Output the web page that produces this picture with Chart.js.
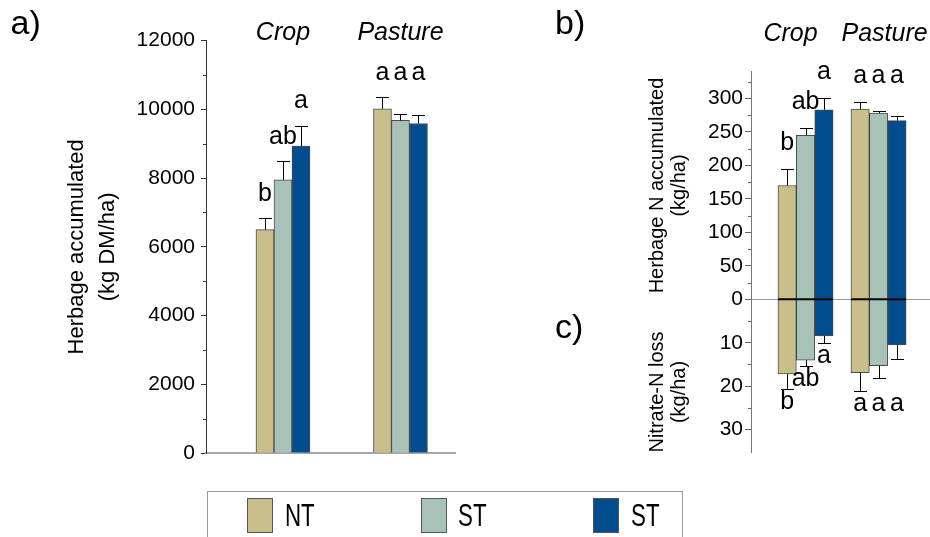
<!DOCTYPE html>
<html>
<head>
<meta charset="utf-8">
<script src="https://cdn.jsdelivr.net/npm/chart.js@4.4.1/dist/chart.umd.min.js"></script>
<style>
html,body{margin:0;padding:0;background:#fff;}
#wrap{position:relative;width:930px;height:537px;overflow:hidden;font-family:'Liberation Sans',Arial,sans-serif;color:#000;}
canvas{position:absolute;left:0;top:0;}
.plab{position:absolute;font-size:34px;line-height:34px;}
#legend{position:absolute;left:207px;top:491px;width:476px;height:70px;border:1.5px solid #9a9a9a;box-sizing:border-box;}
.sw{position:absolute;top:5.5px;width:26px;height:35px;box-sizing:border-box;border:1px solid #555;}
.lt{position:absolute;top:8px;font-family:'Liberation Sans Narrow','Liberation Sans',sans-serif;font-size:31px;line-height:31px;transform:scaleX(0.72);transform-origin:left center;white-space:nowrap;}
</style>
</head>
<body>
<div id="wrap">
  <canvas id="cA" width="930" height="537"></canvas>
  <canvas id="cC" width="930" height="537"></canvas>
  <canvas id="cB" width="930" height="537"></canvas>
  <div class="plab" style="left:10.5px;top:5px;">a)</div>
  <div class="plab" style="left:555px;top:5px;">b)</div>
  <div class="plab" style="left:555px;top:309px;">c)</div>
  <div id="legend"></div>
</div>
<script>
// ---------- data ----------
const groups = ['Crop', 'Pasture'];
const seriesNames = ['NT', 'ST', 'ST'];
const seriesColors = ['#c8bf8c', '#a7c3b8', '#024b8d'];

// a) Herbage accumulated (kg DM/ha), per series: [Crop, Pasture]
const herbageNT  = [6500, 10020];
const herbageST  = [7950, 9680];
const herbageST2 = [8930, 9590];
const herbageErrNT  = [350, 330];
const herbageErrST  = [550, 200];
const herbageErrST2 = [600, 240];
const herbageLetNT  = ['b', 'a'];
const herbageLetST  = ['ab', 'a'];
const herbageLetST2 = ['a', 'a'];

// b) Herbage N accumulated (kg/ha)
const nAccNT  = [170, 284];
const nAccST  = [245, 278];
const nAccST2 = [283, 267];
const nAccErrNT  = [24, 10];
const nAccErrST  = [11, 4];
const nAccErrST2 = [17, 7];
const nAccLetNT  = ['b', 'a'];
const nAccLetST  = ['ab', 'a'];
const nAccLetST2 = ['a', 'a'];

// c) Nitrate-N loss (kg/ha)
const nLossNT  = [17.2, 16.9];
const nLossST  = [14.0, 15.3];
const nLossST2 = [8.4, 10.5];
const nLossErrNT  = [3.5, 4.3];
const nLossErrST  = [1.3, 2.9];
const nLossErrST2 = [1.6, 3.2];
const nLossLetNT  = ['b', 'a'];
const nLossLetST  = ['ab', 'a'];
const nLossLetST2 = ['a', 'a'];

// tick labels
const herbageTicks = [0, 2000, 4000, 6000, 8000, 10000, 12000];
const nAccTicks = [0, 50, 100, 150, 200, 250, 300];
const nLossTicks = [10, 20, 30];

// ---------- helpers ----------
const FONT = "'Liberation Sans', Arial, sans-serif";
Chart.defaults.font.family = FONT;
Chart.defaults.color = '#000';

function makeDatasets(vals, errs, lets, thickness) {
  return vals.map((v, k) => ({
    label: seriesNames[k],
    data: v.map((y, i) => ({ x: i, y: y })),
    errors: errs[k],
    letters: lets[k],
    backgroundColor: seriesColors[k],
    borderColor: 'rgba(45,45,45,0.85)',
    borderWidth: 1,
    barThickness: thickness
  }));
}

const annot = {
  id: 'annot',
  afterDatasetsDraw(chart, args, opts) {
    const ctx = chart.ctx, ys = chart.scales.y;
    const dss = chart.data.datasets;
    const ends = [];
    ctx.save();
    ctx.strokeStyle = '#000';
    ctx.lineWidth = 1;
    dss.forEach((ds, k) => {
      const meta = chart.getDatasetMeta(k);
      ends[k] = meta.data.map((bar, i) => {
        const val = ds.data[i].y;
        const e = ys.getPixelForValue(val + ds.errors[i]);
        const x = Math.round(bar.x) + 0.5;
        const ey = Math.round(e) + 0.5;
        ctx.beginPath();
        ctx.moveTo(x, bar.y);
        ctx.lineTo(x, ey);
        ctx.moveTo(x - opts.cap, ey);
        ctx.lineTo(x + opts.cap, ey);
        ctx.stroke();
        return e;
      });
    });
    ctx.font = '25px ' + FONT;
    ctx.fillStyle = '#000';
    ctx.textAlign = 'center';
    ctx.textBaseline = 'middle';
    for (let i = 0; i < groups.length; i++) {
      const same = dss.every(ds => ds.letters[i] === dss[0].letters[i]);
      const col = ends.map(e => e[i]);
      const groupEnd = opts.dir < 0 ? Math.min(...col) : Math.max(...col);
      dss.forEach((ds, k) => {
        const bar = chart.getDatasetMeta(k).data[i];
        const base = same ? groupEnd : ends[k][i];
        ctx.fillText(ds.letters[i], bar.x, base + opts.dir * opts.offset);
      });
    }
    ctx.restore();
  }
};

const groupTitles = {
  id: 'groupTitles',
  afterDraw(chart, args, opts) {
    if (!opts.show) return;
    const ctx = chart.ctx, xs = chart.scales.x;
    ctx.save();
    ctx.font = 'italic 25px ' + FONT;
    ctx.fillStyle = '#000';
    ctx.textAlign = 'center';
    ctx.textBaseline = 'alphabetic';
    groups.forEach((g, i) => ctx.fillText(g, xs.getPixelForValue(i) + (opts.dx ? opts.dx[i] : 0), opts.y));
    ctx.restore();
  }
};

const sideTitle = {
  id: 'sideTitle',
  afterDraw(chart, args, opts) {
    if (!opts.lines) return;
    const ctx = chart.ctx, s = chart.scales.y, ca = chart.chartArea;
    ctx.save();
    ctx.font = opts.size + 'px ' + FONT;
    ctx.fillStyle = '#000';
    ctx.textAlign = 'center';
    ctx.textBaseline = 'middle';
    const cy = (ca.top + ca.bottom) / 2 + opts.dy;
    opts.lines.forEach((line, j) => {
      ctx.save();
      ctx.translate(s.left + opts.lh / 2 + j * opts.lh, cy);
      ctx.rotate(-Math.PI / 2);
      ctx.fillText(line, 0, 0);
      ctx.restore();
    });
    ctx.restore();
  }
};

const minorTicks = {
  id: 'minorTicks',
  afterDraw(chart, args, opts) {
    const s = chart.scales.y, ctx = chart.ctx;
    ctx.save();
    ctx.strokeStyle = opts.color;
    ctx.lineWidth = 1;
    ctx.beginPath();
    s.ticks.forEach(t => {
      if (opts.major.includes(t.value)) return;
      const p = s.getPixelForValue(t.value);
      if (Math.abs(p - s.top) < 3 || Math.abs(p - s.bottom) < 3) return;
      const y = Math.round(p) + 0.5;
      ctx.moveTo(s.right, y);
      ctx.lineTo(s.right - opts.len, y);
    });
    ctx.stroke();
    ctx.restore();
  }
};

const zeroLine = {
  id: 'zeroLine',
  afterDatasetsDraw(chart, args, opts) {
    if (!opts.show) return;
    const ctx = chart.ctx, ys = chart.scales.y;
    const y = ys.getPixelForValue(0);
    ctx.save();
    ctx.strokeStyle = '#000';
    ctx.lineWidth = 2;
    for (let i = 0; i < groups.length; i++) {
      let l = Infinity, r = -Infinity;
      chart.data.datasets.forEach((ds, k) => {
        const b = chart.getDatasetMeta(k).data[i];
        l = Math.min(l, b.x - b.width / 2);
        r = Math.max(r, b.x + b.width / 2);
      });
      ctx.beginPath();
      ctx.moveTo(l, y);
      ctx.lineTo(r, y);
      ctx.stroke();
    }
    ctx.restore();
  }
};

function majorTickColor(list, color) {
  return c => (c.tick && list.includes(c.tick.value)) ? color : 'rgba(0,0,0,0)';
}

const PLUGINS = [annot, groupTitles, sideTitle, minorTicks, zeroLine];

// ---------- chart a ----------
new Chart(document.getElementById('cA'), {
  type: 'bar',
  data: { datasets: makeDatasets([herbageNT, herbageST, herbageST2],
                                 [herbageErrNT, herbageErrST, herbageErrST2],
                                 [herbageLetNT, herbageLetST, herbageLetST2], 18) },
  options: {
    responsive: false, animation: false, events: [],
    layout: { padding: { left: 61.6, right: 475, top: 40.7, bottom: 84 } },
    plugins: {
      legend: { display: false }, tooltip: { enabled: false },
      annot: { cap: 6.5, dir: -1, offset: 24 },
      groupTitles: { show: true, y: 40 },
      sideTitle: {},
      minorTicks: { major: herbageTicks, len: 3, color: '#333' },
      zeroLine: { show: false }
    },
    scales: {
      x: {
        type: 'linear', min: -0.655, max: 1.464, offset: false,
        grid: { display: false, offset: false },
        ticks: { display: false, stepSize: 1, includeBounds: false },
        border: { display: true, color: '#a6a6a6', width: 2 },
        afterFit(s) { s.height = 0; }
      },
      y: {
        min: 0, max: 12000,
        ticks: { stepSize: 1000, autoSkip: false, includeBounds: false, padding: 6,
                 font: { size: 21 }, color: '#000',
                 callback: v => herbageTicks.includes(v) ? String(v) : '' },
        grid: { drawOnChartArea: false, drawTicks: true, tickLength: 5,
                tickColor: majorTickColor(herbageTicks, '#333') },
        border: { color: '#333', width: 1 },
        title: { display: true, text: ['Herbage accumulated', '(kg DM/ha)'],
                 font: { size: 22, lineHeight: 1.4 }, color: '#000', padding: 0 },
        afterFit(s) { s.width = 144.4; }
      }
    }
  },
  plugins: PLUGINS
});

// ---------- chart c (nitrate loss, downward) ----------
new Chart(document.getElementById('cC'), {
  type: 'bar',
  data: { datasets: makeDatasets([nLossNT, nLossST, nLossST2],
                                 [nLossErrNT, nLossErrST, nLossErrST2],
                                 [nLossLetNT, nLossLetST, nLossLetST2], 18.4) },
  options: {
    responsive: false, animation: false, events: [],
    layout: { padding: { left: 646.3, right: 0, top: 299.3, bottom: 84.3 } },
    plugins: {
      legend: { display: false }, tooltip: { enabled: false },
      annot: { cap: 6.5, dir: 1, offset: 13 },
      groupTitles: { show: false },
      sideTitle: { lines: ['Nitrate-N loss', '(kg/ha)'], size: 20, lh: 22.4, dy: 16 },
      minorTicks: { major: [0].concat(nLossTicks), len: 3, color: '#666' },
      zeroLine: { show: false }
    },
    scales: {
      x: {
        type: 'linear', min: -0.747, max: 1.705, offset: false, display: false,
        grid: { display: false, offset: false },
        ticks: { display: false, stepSize: 1, includeBounds: false }
      },
      y: {
        min: 0, max: 35.3, reverse: true,
        ticks: { stepSize: 5, autoSkip: false, includeBounds: false, padding: 2,
                 font: { size: 21 }, color: '#000',
                 callback: v => nLossTicks.includes(v) ? String(v) : '' },
        grid: { drawOnChartArea: false, drawTicks: true, tickLength: 6,
                tickColor: majorTickColor([0].concat(nLossTicks), '#666') },
        border: { color: '#777', width: 1 },
        afterFit(s) { s.width = 104.7; }
      }
    }
  },
  plugins: PLUGINS
});

// ---------- chart b (herbage N, upward) ----------
new Chart(document.getElementById('cB'), {
  type: 'bar',
  data: { datasets: makeDatasets([nAccNT, nAccST, nAccST2],
                                 [nAccErrNT, nAccErrST, nAccErrST2],
                                 [nAccLetNT, nAccLetST, nAccLetST2], 18.4) },
  options: {
    responsive: false, animation: false, events: [],
    layout: { padding: { left: 646.3, right: 0, top: 71.7, bottom: 237.7 } },
    plugins: {
      legend: { display: false }, tooltip: { enabled: false },
      annot: { cap: 6.5, dir: -1, offset: 26 },
      groupTitles: { show: true, y: 40.7, dx: [-15, 6] },
      sideTitle: {},
      minorTicks: { major: nAccTicks, len: 3, color: '#666' },
      zeroLine: { show: true }
    },
    scales: {
      x: {
        type: 'linear', min: -0.747, max: 1.705, offset: false,
        grid: { display: false, offset: false },
        ticks: { display: false, stepSize: 1, includeBounds: false },
        border: { display: true, color: '#9a9a9a', width: 1 },
        afterFit(s) { s.height = 0; }
      },
      y: {
        min: 0, max: 340,
        ticks: { stepSize: 25, autoSkip: false, includeBounds: false, padding: 2,
                 font: { size: 21 }, color: '#000',
                 callback: v => nAccTicks.includes(v) ? String(v) : '' },
        grid: { drawOnChartArea: false, drawTicks: true, tickLength: 6,
                tickColor: majorTickColor(nAccTicks, '#666') },
        border: { color: '#777', width: 1 },
        title: { display: true, text: ['Herbage N accumulated', '(kg/ha)'],
                 font: { size: 20, lineHeight: 1.12 }, color: '#000', padding: 0 },
        afterFit(s) { s.width = 104.7; }
      }
    }
  },
  plugins: PLUGINS
});

// ---------- legend ----------
const legendSlots = [{ sw: 38.5, tx: 77 }, { sw: 212.5, tx: 250 }, { sw: 384.5, tx: 423 }];
const lg = document.getElementById('legend');
seriesNames.forEach((name, k) => {
  const sw = document.createElement('div');
  sw.className = 'sw';
  sw.style.left = legendSlots[k].sw + 'px';
  sw.style.background = seriesColors[k];
  lg.appendChild(sw);
  const t = document.createElement('div');
  t.className = 'lt';
  t.style.left = legendSlots[k].tx + 'px';
  t.textContent = name;
  lg.appendChild(t);
});
</script>
</body>
</html>
